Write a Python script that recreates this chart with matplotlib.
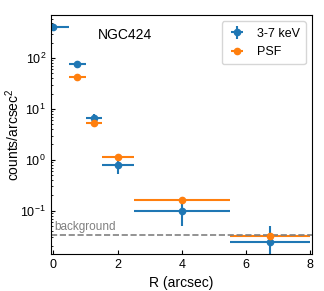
import matplotlib
matplotlib.use("Agg")
import matplotlib.pyplot as plt
import numpy as np

plt.rcParams['font.family'] = ['Liberation Sans', 'DejaVu Sans']
plt.rcParams['mathtext.fontset'] = 'custom'
plt.rcParams['mathtext.rm'] = 'Liberation Sans'
plt.rcParams['mathtext.it'] = 'Liberation Sans:italic'
plt.rcParams['mathtext.bf'] = 'Liberation Sans:bold'

# Data
r_obs = [0.0, 0.75, 1.25, 2.0, 4.0, 6.75]
r_obs_err = [0.5, 0.25, 0.25, 0.5, 1.5, 1.25]
sb_obs = [400, 77, 6.6, 0.79, 0.10, 0.024]
sb_obs_err = [20, 5, 1.2, 0.26, 0.05, 0.025]

r_psf = [0.75, 1.25, 2.0, 4.0, 6.75]
r_psf_err = [0.25, 0.25, 0.5, 1.5, 1.25]
sb_psf = [42, 5.3, 1.12, 0.162, 0.032]

background = 0.033

fig, ax = plt.subplots(figsize=(3.24, 2.91), dpi=100)
fig.subplots_adjust(left=0.157, right=0.963, top=0.948, bottom=0.127)

ax.errorbar(r_obs, sb_obs, xerr=r_obs_err, yerr=sb_obs_err, fmt='o',
            color='#1f77b4', ms=4.5, lw=1.5, label='3-7 keV')
ax.errorbar(r_psf, sb_psf, xerr=r_psf_err, fmt='o',
            color='#ff7f0e', ms=4.5, lw=1.5, label='PSF')
ax.axhline(background, color='gray', ls='--', lw=1.2)
ax.text(0.02, background * 1.08, 'background', color='gray', fontsize=8.5,
        va='bottom', ha='left')

ax.set_yscale('log')
ax.set_xlim(-0.08, 8.06)
ax.set_ylim(0.014, 700)
ax.set_xticks([0, 2, 4, 6, 8])
ax.tick_params(direction='in', which='both', labelsize=9, length=3)
ax.tick_params(which='minor', length=1.5)
ax.set_xlabel('R (arcsec)', fontsize=10)
ax.set_ylabel('counts/arcsec$^2$', fontsize=10)
ax.yaxis.set_label_coords(-0.112, 0.5)
ax.text(0.18, 0.915, 'NGC424', transform=ax.transAxes, fontsize=10,
        ha='left', va='center')
ax.legend(loc='upper right', fontsize=9, handlelength=1.5, borderpad=0.5)

fig.savefig('out.png', dpi=100)
